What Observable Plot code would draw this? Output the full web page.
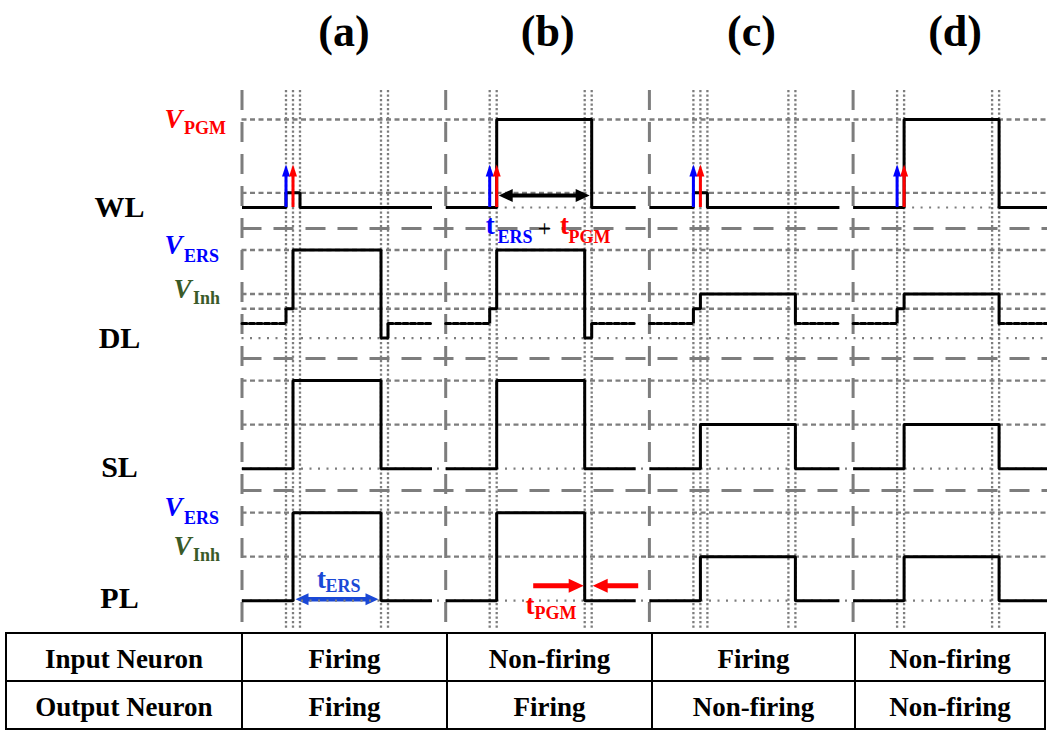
<!DOCTYPE html>
<html>
<head>
<meta charset="utf-8">
<script src="https://cdn.jsdelivr.net/npm/d3@7"></script>
<script src="https://cdn.jsdelivr.net/npm/@observablehq/plot@0.6"></script>
<style>
  body { margin: 0; background: #fff; }
  #chart svg { display: block; }
  #tbl { border-collapse: collapse; table-layout: fixed; width: 1039px; margin-left: 5px;
         font-family: "Liberation Serif", "Times New Roman", serif; font-weight: bold; font-size: 27px; }
  #tbl td { border: 2px solid #000; text-align: center; padding: 0; height: 46px; white-space: nowrap; line-height: 1; }
  #tbl td span { display: inline-block; position: relative; top: 2px; }
</style>
</head>
<body>
<div id="chart"></div>
<table id="tbl">
  <colgroup><col style="width:236px"><col style="width:205px"><col style="width:205px"><col style="width:203px"><col style="width:190px"></colgroup>
  <tbody></tbody>
</table>
<script>
// ---------------- data ----------------
const panels = ["(a)", "(b)", "(c)", "(d)"];
const signals = ["WL", "DL", "SL", "PL"];
const tableRowLabels = ["Input Neuron", "Output Neuron"];
const inputNeuron = ["Firing", "Non-firing", "Firing", "Non-firing"];
const outputNeuron = ["Firing", "Firing", "Non-firing", "Non-firing"];

// timing markers (dotted verticals) per panel, time units
const markerTimes = [
  [44, 51, 58, 139, 146],
  [44, 51, 139, 146],
  [44, 51, 58, 139, 146],
  [44, 51, 139, 146]
];

// waveforms as step points [time, level] per panel
const wlWave = [
  [[0, 0], [44, 1], [58, 0], [190, 0]],
  [[0, 0], [51, 6], [146, 0], [190, 0]],
  [[0, 0], [44, 1], [58, 0], [190, 0]],
  [[0, 0], [51, 6], [146, 0], [196, 0]]
];
const dlWaveSolid = [
  [[44, 0], [44, 1], [51, 5], [139, -1], [146, 0]],
  [[44, 0], [44, 1], [51, 5], [139, -1], [146, 0]],
  [[44, 0], [44, 1], [51, 2], [146, 0]],
  [[44, 0], [44, 1], [51, 2], [146, 0]]
];
const dlWaveFloating = [
  [[[0, 0], [44, 0]], [[146, 0], [190, 0]]],
  [[[0, 0], [44, 0]], [[146, 0], [190, 0]]],
  [[[0, 0], [44, 0]], [[146, 0], [190, 0]]],
  [[[0, 0], [44, 0]], [[146, 0], [196, 0]]]
];
const slWave = [
  [[0, 0], [51, 6], [139, 0], [190, 0]],
  [[0, 0], [51, 6], [139, 0], [190, 0]],
  [[0, 0], [51, 3], [146, 0], [190, 0]],
  [[0, 0], [51, 3], [146, 0], [196, 0]]
];
const plWave = [
  [[0, 0], [51, 6], [139, 0], [190, 0]],
  [[0, 0], [51, 6], [139, 0], [190, 0]],
  [[0, 0], [51, 3], [146, 0], [190, 0]],
  [[0, 0], [51, 3], [146, 0], [196, 0]]
];

// voltage levels (guides)
const wlLevels = [6, 1];
const dlLevels = [5, 2, 1];
const slLevels = [6, 3];
const plLevels = [6, 3];
const dlLowLevel = -1;
const wlIdleSpan = [null, [51, 146], null, [51, 146]];

// pulse arrows (erase = blue, program = red) at times per panel
const pulseArrowTimes = [44, 51];
const pulseArrowKinds = ["ERS", "PGM"];
const pulseArrowTip = 2.93;
const durationSpan = [53, 144];        // t_ERS + t_PGM in (b)
const tersSpan = [53.5, 136.5];        // t_ERS in (a) PL
const tpgmRight = [88, 138];           // t_PGM arrows in (b) PL
const tpgmLeft = [193, 147];

// ---------------- layout ----------------
const W = 1047, H = 632;
const UNIT = 14.67;                 // px per level unit
const PANEL_W = 203.7;
const X0 = 241.5;
const yTop = 207 / UNIT;
const yBottom = yTop - H / UNIT;
const rowBase = {WL: 0, DL: -7.9, SL: -17.8, PL: -26.8};
const sepY = [-1.43, -10.29, -19.29];
const gridTop = yTop - 90 / UNIT;
const xMax = W - X0;
const titleY = yTop - 31.5 / UNIT;

const X = (p, t) => p * PANEL_W + t;
const Y = (sig, lvl) => rowBase[sig] + lvl;
const px = v => v / UNIT; // px offset to level units

const GRAY = "#7d7d7d";
const RED = "#ff0000", BLUE = "#0000ff", GREEN = "#3a5a28", ABLUE = "#1a48d6";
const FONT = "Liberation Serif, Times New Roman, serif";

// flatten waves
const solid = [], floating = [];
function addWave(target, sig, arr, tag) {
  arr.forEach((pts, p) => pts.forEach(([t, l]) => target.push({id: `${sig}-${tag}-${p}`, x: X(p, t), y: Y(sig, l)})));
}
addWave(solid, "WL", wlWave, "s");
addWave(solid, "DL", dlWaveSolid, "s");
addWave(solid, "SL", slWave, "s");
addWave(solid, "PL", plWave, "s");
dlWaveFloating.forEach((segs, p) => segs.forEach((seg, k) =>
  seg.forEach(([t, l]) => floating.push({id: `DL-f-${p}-${k}`, x: X(p, t), y: Y("DL", l)}))));

const markers = markerTimes.flatMap((ts, p) => ts.map(t => X(p, t)));
const guides = [
  ...wlLevels.map(l => Y("WL", l)), ...dlLevels.map(l => Y("DL", l)),
  ...slLevels.map(l => Y("SL", l)), ...plLevels.map(l => Y("PL", l))
];
const fineDotted = [Y("DL", dlLowLevel), Y("SL", 0), Y("PL", 0)];
const wlIdle = wlIdleSpan.map((s, p) => s && {x1: X(p, s[0]), x2: X(p, s[1]), y: Y("WL", 0)}).filter(Boolean);

const upArrows = panels.flatMap((_, p) => pulseArrowTimes.map((t, k) => ({
  x: X(p, t), y1: Y("WL", 0), tip: Y("WL", pulseArrowTip), color: k === 0 ? BLUE : RED, kind: pulseArrowKinds[k]
})));

function head(dir, len, hw) {
  return {draw(ctx) {
    if (dir === "up") { ctx.moveTo(0, 0); ctx.lineTo(-hw, len); ctx.lineTo(hw, len); }
    else if (dir === "right") { ctx.moveTo(0, 0); ctx.lineTo(-len, -hw); ctx.lineTo(-len, hw); }
    else { ctx.moveTo(0, 0); ctx.lineTo(len, -hw); ctx.lineTo(len, hw); }
    ctx.closePath();
  }};
}

const durY = Y("WL", 0.82);
const tersY = Y("PL", 0.1);
const tpgmY = Y("PL", 1.02);

const sideLabels = [
  {sub: "PGM", color: RED, sig: "WL", level: 6, xEnd: -59.5, dv: 0, ds: 9},
  {sub: "ERS", color: BLUE, sig: "DL", level: 5, xEnd: -59.5, dv: -4.5, ds: 6.5},
  {sub: "Inh", color: GREEN, sig: "DL", level: 2, xEnd: -50.5, dv: -5, ds: 4},
  {sub: "ERS", color: BLUE, sig: "PL", level: 6, xEnd: -59.5, dv: -5, ds: 5.5},
  {sub: "Inh", color: GREEN, sig: "PL", level: 3, xEnd: -50.5, dv: -10, ds: -1.5}
];
const rowLabelLevel = {WL: 0, DL: -1, SL: 0.1, PL: 0.15};

const tMain = [
  {text: "t", color: BLUE, x: X(1, 44.5), y: Y("WL", -1.23)},
  {text: "t", color: RED, x: X(1, 118.8), y: Y("WL", -1.23)},
  {text: "t", color: ABLUE, x: X(0, 79.5), y: Y("PL", 1.47)},
  {text: "t", color: RED, x: X(1, 84.3), y: Y("PL", -0.31)}
];
const tSub = [
  {text: "ERS", color: BLUE, x: X(1, 51.8), y: Y("WL", -2.01)},
  {text: "PGM", color: RED, x: X(1, 122.8), y: Y("WL", -2.01)},
  {text: "ERS", color: ABLUE, x: X(0, 83.5), y: Y("PL", 0.95)},
  {text: "PGM", color: RED, x: X(1, 88.8), y: Y("PL", -0.89)}
];

const marks = [
  Plot.ruleX(panels, {x: (d, i) => X(i, 0), y1: () => gridTop, y2: () => yBottom,
    stroke: GRAY, strokeWidth: 3, strokeDasharray: "20,12"}),
  Plot.ruleY(sepY, {y: d => d, x1: () => 0, x2: () => xMax,
    stroke: GRAY, strokeWidth: 3, strokeDasharray: "20,12"}),
  Plot.ruleY(guides, {y: d => d, x1: () => 0, x2: () => xMax,
    stroke: GRAY, strokeWidth: 2.4, strokeDasharray: "5,3.5"}),
  Plot.ruleX(markers, {x: d => d, y1: () => gridTop, y2: () => yBottom + px(3),
    stroke: GRAY, strokeWidth: 2.3, strokeDasharray: "2.2,2.3"}),
  Plot.ruleY([tersSpan], {y: () => tersY, x1: d => X(0, d[0] + 10), x2: d => X(0, d[1] - 10),
    stroke: ABLUE, strokeWidth: 4.5}),
  Plot.dot([tersSpan[0]], {x: d => X(0, d), y: () => tersY, symbol: head("left", 13, 6), r: 5, fill: ABLUE, stroke: "none"}),
  Plot.dot([tersSpan[1]], {x: d => X(0, d), y: () => tersY, symbol: head("right", 13, 6), r: 5, fill: ABLUE, stroke: "none"}),
  Plot.ruleY(fineDotted, {y: d => d, x1: () => 0, x2: () => xMax,
    stroke: GRAY, strokeWidth: 2.2, strokeDasharray: "2,6.5"}),
  Plot.ruleY(wlIdle, {y: "y", x1: "x1", x2: "x2", stroke: GRAY, strokeWidth: 2.2, strokeDasharray: "2,6.5"}),
  Plot.line(solid, {x: "x", y: "y", z: "id", curve: "step-after", stroke: "#000", strokeWidth: 3, strokeLinejoin: "miter", strokeLinecap: "butt"}),
  Plot.line(floating, {x: "x", y: "y", z: "id", stroke: "#000", strokeWidth: 3, strokeDasharray: "5,2.5"}),
  Plot.ruleX(upArrows, {x: "x", y1: "y1", y2: d => d.tip - px(10), stroke: "color", strokeWidth: 3}),
  Plot.dot(upArrows, {x: "x", y: "tip", symbol: head("up", 12, 4), r: 5, fill: "color", stroke: "none"}),
  Plot.ruleY([durationSpan], {y: () => durY, x1: d => X(1, d[0] + 10), x2: d => X(1, d[1] - 10), stroke: "#000", strokeWidth: 4}),
  Plot.dot([durationSpan[0]], {x: d => X(1, d), y: () => durY, symbol: head("left", 14, 6.5), r: 5, fill: "#000", stroke: "none"}),
  Plot.dot([durationSpan[1]], {x: d => X(1, d), y: () => durY, symbol: head("right", 14, 6.5), r: 5, fill: "#000", stroke: "none"}),
  Plot.ruleY([tpgmRight, tpgmLeft], {y: () => tpgmY, x1: d => X(1, d[0]), x2: d => X(1, d[1] + (d[1] > d[0] ? -12 : 12)), stroke: RED, strokeWidth: 5}),
  Plot.dot([tpgmRight[1]], {x: d => X(1, d), y: () => tpgmY, symbol: head("right", 15, 7), r: 5, fill: RED, stroke: "none"}),
  Plot.dot([tpgmLeft[1]], {x: d => X(1, d), y: () => tpgmY, symbol: head("left", 15, 7), r: 5, fill: RED, stroke: "none"}),
  Plot.text(panels, {x: (d, i) => X(i, 102), y: () => titleY, text: d => d, fontSize: 44, fontWeight: "bold",
    fontFamily: FONT, fill: "#000", lineAnchor: "middle"}),
  Plot.text(signals, {x: () => -122.5, y: d => Y(d, rowLabelLevel[d]), text: d => d, fontSize: 30, fontWeight: "bold",
    fontFamily: FONT, fill: "#000", lineAnchor: "middle"}),
  Plot.text(sideLabels, {x: "xEnd", y: d => Y(d.sig, d.level) - px(d.dv), text: () => "V", fill: "color",
    fontSize: 27, fontWeight: "bold", fontStyle: "italic", fontFamily: FONT, textAnchor: "end", lineAnchor: "middle"}),
  Plot.text(sideLabels, {x: d => d.xEnd + 1.5, y: d => Y(d.sig, d.level) - px(d.ds), text: "sub", fill: "color",
    fontSize: 18, fontWeight: "bold", fontFamily: FONT, textAnchor: "start", lineAnchor: "middle"}),
  Plot.text(tMain, {x: "x", y: "y", text: "text", fill: "color", fontSize: 27, fontWeight: "bold",
    fontFamily: FONT, textAnchor: "middle", lineAnchor: "middle"}),
  Plot.text(tSub, {x: "x", y: "y", text: "text", fill: "color", fontSize: 18, fontWeight: "bold",
    fontFamily: FONT, textAnchor: "start", lineAnchor: "middle"}),
  Plot.text(["+"], {x: () => X(1, 98.8), y: () => Y("WL", -1.43), text: d => d, fill: "#000", fontSize: 24,
    fontFamily: FONT, textAnchor: "middle", lineAnchor: "middle"})
];

const chart = Plot.plot({
  width: W, height: H, margin: 0,
  x: {domain: [-X0, xMax], axis: null},
  y: {domain: [yBottom, yTop], axis: null},
  style: {background: "#fff", overflow: "visible"},
  marks
});
document.getElementById("chart").append(chart);

const tbody = document.querySelector("#tbl tbody");
[[tableRowLabels[0], ...inputNeuron], [tableRowLabels[1], ...outputNeuron]].forEach(row => {
  const tr = document.createElement("tr");
  row.forEach(txt => {
    const td = document.createElement("td");
    const sp = document.createElement("span");
    sp.textContent = txt;
    td.append(sp);
    tr.append(td);
  });
  tbody.append(tr);
});
</script>
</body>
</html>
